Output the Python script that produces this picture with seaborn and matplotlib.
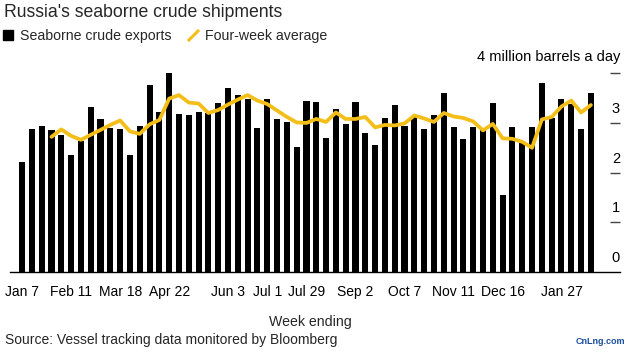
import matplotlib
matplotlib.use("Agg")
import matplotlib.pyplot as plt
import matplotlib.transforms as mtrans
from matplotlib.lines import Line2D
import seaborn as sns
import numpy as np

# weekly seaborne crude exports, million barrels a day (week ending Jan 7 2023 .. Feb 17 2024)
exports = [2.21, 2.87, 2.94, 2.85, 2.76, 2.35, 2.63, 3.33, 3.07, 2.90,
           2.88, 2.35, 2.94, 3.77, 3.21, 4.00, 3.17, 3.15, 3.21, 3.19,
           3.41, 3.70, 3.57, 3.49, 2.90, 3.49, 3.07, 3.01, 2.51, 3.45,
           3.42, 2.69, 3.28, 2.97, 3.43, 2.80, 2.55, 3.10, 3.37, 2.94,
           3.11, 2.87, 3.15, 3.61, 2.91, 2.67, 2.91, 2.86, 3.41, 1.54,
           2.91, 2.60, 2.92, 3.81, 3.09, 3.49, 3.39, 2.87, 3.61]

# four-week average, starts at the 4th week
avg_start = 3
four_week = [2.72, 2.87, 2.74, 2.66, 2.76, 2.86, 2.96, 3.05, 2.83, 2.78,
             2.97, 3.06, 3.49, 3.56, 3.41, 3.39, 3.20, 3.26, 3.37, 3.47,
             3.56, 3.45, 3.38, 3.25, 3.12, 3.01, 3.00, 3.08, 3.02, 3.21,
             3.08, 3.08, 3.12, 2.91, 2.96, 2.95, 2.99, 3.15, 3.09, 3.02,
             3.20, 3.13, 3.10, 3.03, 2.85, 2.98, 2.69, 2.68, 2.62, 2.50,
             3.07, 3.12, 3.33, 3.45, 3.21, 3.36]

label_weeks = [0, 5, 10, 15, 21, 25, 29, 34, 39, 44, 49, 55]
tick_labels = ["Jan 7", "Feb 11", "Mar 18", "Apr 22", "Jun 3", "Jul 1",
               "Jul 29", "Sep 2", "Oct 7", "Nov 11", "Dec 16", "Jan 27"]
y_labels = [0, 1, 2, 3]

yellow = "#f4be18"

sns.set_style("white")
plt.rcParams["font.family"] = ["Liberation Sans", "DejaVu Sans"]

W, H = 633, 352
fig = plt.figure(figsize=(W / 100, H / 100), dpi=100)
ax = fig.add_axes([10 / W, 80 / H, 610 / W, 208.7 / H])

weeks = np.arange(len(exports))
sns.barplot(x=weeks, y=exports, color="black", saturation=1, width=0.62,
            linewidth=0, ax=ax)
avg_weeks = weeks[avg_start:avg_start + len(four_week)]
sns.lineplot(x=avg_weeks, y=four_week, color=yellow, linewidth=2.7, ax=ax)

ax.set_xlim(-1.23, 60.97)
ax.set_ylim(0, 4.2)
ax.set_xlabel("")
ax.set_ylabel("")

for s in ["left", "top", "right"]:
    ax.spines[s].set_visible(False)
ax.spines["bottom"].set_color("black")
ax.spines["bottom"].set_linewidth(1.0)

# x axis: small tick every week, bigger ticks at labels
ax.set_xticks(label_weeks, labels=tick_labels)
ax.set_xticks(weeks, minor=True)
ax.tick_params(axis="x", which="major", length=4.7, width=1, color="black",
               labelsize=10, pad=5, labelcolor="black")
ax.tick_params(axis="x", which="minor", length=2.2, width=0.8, color="#555555")

# y axis: short ticks inside on the right, labels sit above them
ax.yaxis.tick_right()
ax.set_yticks([1, 2, 3, 4])
ax.tick_params(axis="y", direction="in", length=7.2, width=1, color="#444444",
               labelright=False, labelleft=False)
trans = mtrans.blended_transform_factory(ax.transAxes, ax.transData)
for v in y_labels:
    ax.text(1.0, v + 0.28, str(v), transform=trans, ha="right", va="center",
            fontsize=10.5, color="black")
ax.text(1.0, 4.33, "4 million barrels a day", transform=trans, ha="right",
        va="center", fontsize=10.5, color="black")

fig.text(4 / W, 1 - 17 / H, "Russia's seaborne crude shipments", fontsize=12.7,
         va="baseline", ha="left")

handles = [Line2D([0], [0], marker="s", color="black", linestyle="None", markersize=7.5),
           Line2D([0], [0], marker=[(-1, -1), (1, 1)], color=yellow, linestyle="None",
                  markersize=8, markeredgewidth=2.2)]
fig.legend(handles, ["Seaborne crude exports", "Four-week average"],
           loc="upper left", bbox_to_anchor=(1 / W, 1 - 29 / H), ncol=2,
           frameon=False, fontsize=10.2, handlelength=1.0, handletextpad=0.35,
           columnspacing=1.0, borderpad=0, borderaxespad=0)

fig.text(310 / W, 1 - 322 / H, "Week ending", fontsize=10.2, ha="center", va="center")
fig.text(5 / W, 1 - 340 / H, "Source: Vessel tracking data monitored by Bloomberg",
         fontsize=10, ha="left", va="center")
fig.text(600 / W, 1 - 342 / H, "CnLng.com", fontsize=6.5, color="#1a4fa0",
         ha="center", va="center", fontweight="bold")

fig.savefig("out.png", dpi=100)
